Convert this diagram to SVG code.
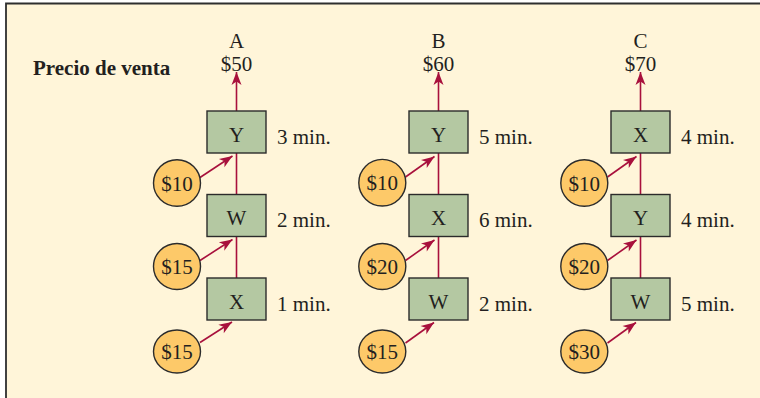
<svg xmlns="http://www.w3.org/2000/svg" width="760" height="398" viewBox="0 0 760 398">
<style>
text{font-family:"Liberation Serif","Times New Roman",serif;font-size:21px;fill:#231f20}
.c{text-anchor:middle}
.b{font-weight:bold}
.box{fill:#b4c8a2;stroke:#2b2b2b;stroke-width:1.4}
.coin{fill:#fdc969;stroke:#2b2b2b;stroke-width:1.4}
.ln{stroke:#a8103c;stroke-width:1.6;fill:none}
.ar{stroke:#a8103c;stroke-width:1.6;fill:none;marker-end:url(#ah)}
</style>
<defs>
<marker id="ah" markerUnits="userSpaceOnUse" viewBox="-14 -6 16 12" refX="0" refY="0" markerWidth="16" markerHeight="12" orient="auto">
<path d="M0,0 L-13,-5 L-9.5,0 L-13,5 Z" fill="#a8103c"/>
</marker>
</defs>
<rect x="0" y="0" width="760" height="398" fill="#ffffff"/>
<rect x="6" y="3.5" width="760" height="400" fill="#fff5d9"/>
<path d="M6,398 L6,3.5 L760,3.5" fill="none" stroke="#2e2e2e" stroke-width="1.8"/>
<text class="b" x="33" y="75">Precio de venta</text>

<g id="connectors">
<line class="ar" x1="236.5" y1="111" x2="236.5" y2="72"/>
<line class="ln" x1="236.5" y1="153" x2="236.5" y2="194.5"/>
<line class="ln" x1="236.5" y1="236.5" x2="236.5" y2="278"/>
<line class="ar" x1="200" y1="177.5" x2="232.5" y2="156"/>
<line class="ar" x1="200" y1="260.5" x2="232.5" y2="239.5"/>
<line class="ar" x1="200" y1="342.5" x2="232" y2="322"/>

<line class="ar" x1="438.5" y1="111" x2="438.5" y2="72"/>
<line class="ln" x1="438.5" y1="153" x2="438.5" y2="194.5"/>
<line class="ln" x1="438.5" y1="236.5" x2="438.5" y2="278"/>
<line class="ar" x1="405.5" y1="177" x2="434.5" y2="156.5"/>
<line class="ar" x1="405.5" y1="260.5" x2="434.5" y2="240"/>
<line class="ar" x1="405.5" y1="343" x2="434" y2="322.5"/>

<line class="ar" x1="640.5" y1="111" x2="640.5" y2="72"/>
<line class="ln" x1="640.5" y1="153" x2="640.5" y2="194.5"/>
<line class="ln" x1="640.5" y1="236.5" x2="640.5" y2="278"/>
<line class="ar" x1="607.5" y1="177" x2="636.5" y2="156.5"/>
<line class="ar" x1="607.5" y1="260.5" x2="636.5" y2="240"/>
<line class="ar" x1="607.5" y1="343" x2="636" y2="322.5"/>
</g>

<g id="labelA"><text class="c" x="236.5" y="48">A</text><text class="c" x="236.5" y="70.5">$50</text></g>
<g id="labelB"><text class="c" x="438.5" y="48">B</text><text class="c" x="438.5" y="70.5">$60</text></g>
<g id="labelC"><text class="c" x="640.5" y="48">C</text><text class="c" x="640.5" y="70.5">$70</text></g>

<g id="A1"><rect class="box" x="207" y="111" width="59" height="42"/><text class="c" x="236.5" y="141.5">Y</text><text x="277" y="143.5">3 min.</text></g>
<g id="A2"><rect class="box" x="207" y="194.5" width="59" height="42"/><text class="c" x="236.5" y="225">W</text><text x="277" y="227">2 min.</text></g>
<g id="A3"><rect class="box" x="207" y="278" width="59" height="42"/><text class="c" x="236.5" y="308.5">X</text><text x="277" y="310.5">1 min.</text></g>
<g id="Ac1"><ellipse class="coin" cx="177" cy="183" rx="23.5" ry="23.3"/><text class="c" x="177" y="190.5">$10</text></g>
<g id="Ac2"><ellipse class="coin" cx="177" cy="266.5" rx="23.5" ry="23"/><text class="c" x="177" y="274">$15</text></g>
<g id="Ac3"><ellipse class="coin" cx="177" cy="351.5" rx="23.5" ry="21.5"/><text class="c" x="177" y="359">$15</text></g>

<g id="B1"><rect class="box" x="409" y="111" width="59" height="42"/><text class="c" x="438.5" y="141.5">Y</text><text x="479" y="143.5">5 min.</text></g>
<g id="B2"><rect class="box" x="409" y="194.5" width="59" height="42"/><text class="c" x="438.5" y="225">X</text><text x="479" y="227">6 min.</text></g>
<g id="B3"><rect class="box" x="409" y="278" width="59" height="42"/><text class="c" x="438.5" y="308.5">W</text><text x="479" y="310.5">2 min.</text></g>
<g id="Bc1"><ellipse class="coin" cx="382.3" cy="182.7" rx="23.5" ry="23.3"/><text class="c" x="382.3" y="190.2">$10</text></g>
<g id="Bc2"><ellipse class="coin" cx="382.3" cy="266.5" rx="23.5" ry="23"/><text class="c" x="382.3" y="274">$20</text></g>
<g id="Bc3"><ellipse class="coin" cx="382.3" cy="351.5" rx="23.5" ry="21.5"/><text class="c" x="382.3" y="359">$15</text></g>

<g id="C1"><rect class="box" x="611" y="111" width="59" height="42"/><text class="c" x="640.5" y="141.5">X</text><text x="681" y="143.5">4 min.</text></g>
<g id="C2"><rect class="box" x="611" y="194.5" width="59" height="42"/><text class="c" x="640.5" y="225">Y</text><text x="681" y="227">4 min.</text></g>
<g id="C3"><rect class="box" x="611" y="278" width="59" height="42"/><text class="c" x="640.5" y="308.5">W</text><text x="681" y="310.5">5 min.</text></g>
<g id="Cc1"><ellipse class="coin" cx="584.3" cy="183" rx="23.5" ry="23.3"/><text class="c" x="584.3" y="190.5">$10</text></g>
<g id="Cc2"><ellipse class="coin" cx="584.3" cy="266.5" rx="23.5" ry="23"/><text class="c" x="584.3" y="274">$20</text></g>
<g id="Cc3"><ellipse class="coin" cx="584.3" cy="351.5" rx="23.5" ry="21.5"/><text class="c" x="584.3" y="359">$30</text></g>
</svg>
